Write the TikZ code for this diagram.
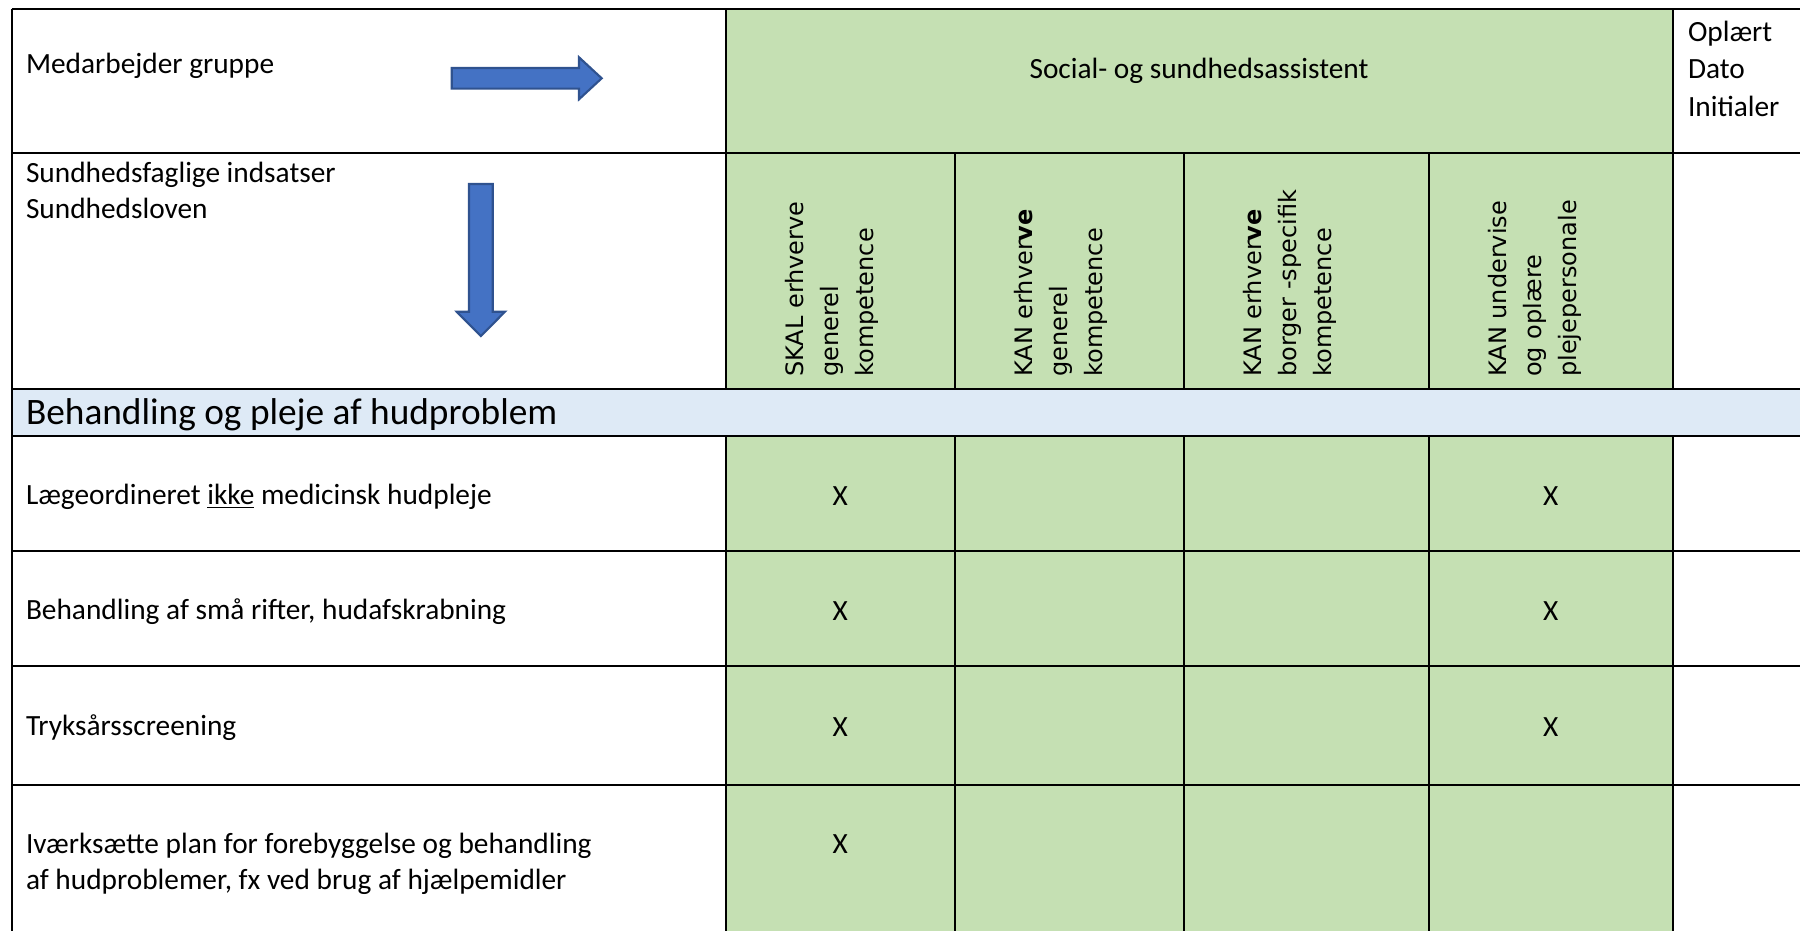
\documentclass[tikz,border=0pt]{standalone}
\usepackage{fontspec}
\setmainfont{Carlito}
\newfontfamily\vfont{DejaVu Sans}
\definecolor{cgreen}{HTML}{C5E0B3}
\definecolor{cband}{HTML}{DEEAF6}
\definecolor{afill}{HTML}{4472C4}
\definecolor{aline}{HTML}{2F528F}
\begin{document}
\begin{tikzpicture}[x=0.375pt,y=-0.375pt,
  txt/.style={inner sep=0pt,outer sep=0pt,anchor=base west,font=\fontsize{11pt}{13.4pt}\selectfont},
  bigtxt/.style={txt,font=\fontsize{14pt}{17pt}\selectfont},
  ctxt/.style={txt,anchor=base},
  rot/.style={inner sep=0pt,outer sep=0pt,anchor=base west,rotate=90,font=\vfont\fontsize{9pt}{11pt}\selectfont},
  gridline/.style={line width=0.75pt,black},
  blockarrow/.style={fill=afill,draw=aline,line width=0.8pt,line join=miter}
]
\useasboundingbox (0,0) rectangle (1800,931);
% coordinates
\def\XA{11.5}\def\XB{725.6}\def\XC{955}\def\XD{1183.6}\def\XE{1429}\def\XF{1672.6}\def\XR{1801}
\def\YA{9.5}\def\YB{153}\def\YC{388.5}\def\YD{435.5}\def\YE{550.5}\def\YF{666}\def\YG{784.5}\def\YH{932}
% fills
\fill[cgreen] (\XB,\YA) rectangle (\XF,\YC);
\fill[cgreen] (\XB,\YD) rectangle (\XF,\YH);
\fill[cband] (\XA,\YC) rectangle (\XR,\YD);
% horizontal lines
\foreach \yy in {\YA,\YB,\YC,\YD,\YE,\YF,\YG}
  \draw[gridline] (\XA,\yy) -- (\XR,\yy);
% vertical lines
\draw[gridline] (\XA,\YA) -- (\XA,\YH);
\foreach \xx in {\XB,\XF}{
  \draw[gridline] (\xx,\YA) -- (\xx,\YC);
  \draw[gridline] (\xx,\YD) -- (\xx,\YH);
}
\foreach \xx in {\XC,\XD,\XE}{
  \draw[gridline] (\xx,\YB) -- (\xx,\YC);
  \draw[gridline] (\xx,\YD) -- (\xx,\YH);
}
% block arrows
\draw[blockarrow] (451.7,68) -- (579,68) -- (579,57.3) -- (601.7,78.3) -- (579,99.3) -- (579,88.6) -- (451.7,88.6) -- cycle;
\draw[blockarrow] (469,184) -- (492.7,184) -- (492.7,311.7) -- (505,311.7) -- (480.85,336) -- (456.7,311.7) -- (469,311.7) -- cycle;
% header texts
\node[txt] (mg) at (26,73.5) {Medarbejder gruppe};
\node[txt] (si) at (26,183) {Sundhedsfaglige indsatser};
\node[txt] (sl) at (26,218.5) {Sundhedsloven};
\node[ctxt] (ssa) at (1199,78.3) {Social- og sundhedsassistent};
\node[txt] (op) at (1688,41.5) {Oplært};
\node[txt] (da) at (1688,78.5) {Dato};
\node[txt] (in) at (1688,116.5) {Initialer};
% rotated column headers
\node[rot] (c1a) at (803.3,376.7) {SKAL erhverve};
\node[rot] (c1b) at (838.3,376.7) {generel};
\node[rot] (c1c) at (873.3,376.7) {kompetence};
\node[rot] (c2a) at (1032.7,376.7) {KAN erhver\textbf{ve}};
\node[rot] (c2b) at (1067.7,376.7) {generel};
\node[rot] (c2c) at (1102.7,376.7) {kompetence};
\node[rot] (c3a) at (1261.3,376.7) {KAN erhver\textbf{ve}};
\node[rot] (c3b) at (1296.3,376.7) {borger -specifik};
\node[rot] (c3c) at (1331.3,376.7) {kompetence};
\node[rot] (c4a) at (1506.7,376.7) {KAN undervise};
\node[rot] (c4b) at (1541.7,376.7) {og oplære};
\node[rot] (c4c) at (1576.7,376.7) {plejepersonale};
% band
\node[bigtxt] (band) at (26,424) {Behandling og pleje af hudproblem};
% rows
\node[txt] (r1) at (26,504) {Lægeordineret \underline{ikke} medicinsk hudpleje};
\node[txt] (r2) at (26,619.5) {Behandling af små rifter, hudafskrabning};
\node[txt] (r3) at (26,735.5) {Tryksårsscreening};
\node[txt] (r4a) at (26,853) {Iværksætte plan for forebyggelse og behandling};
\node[txt] (r4b) at (26,889) {af hudproblemer, fx ved brug af hjælpemidler};
% marks
\node[ctxt] (x11) at (840.3,505.5) {X};
\node[ctxt] (x14) at (1550.8,505.5) {X};
\node[ctxt] (x21) at (840.3,620.5) {X};
\node[ctxt] (x24) at (1550.8,620.5) {X};
\node[ctxt] (x31) at (840.3,736.5) {X};
\node[ctxt] (x34) at (1550.8,736.5) {X};
\node[ctxt] (x41) at (840.3,853.5) {X};
\end{tikzpicture}
\end{document}
